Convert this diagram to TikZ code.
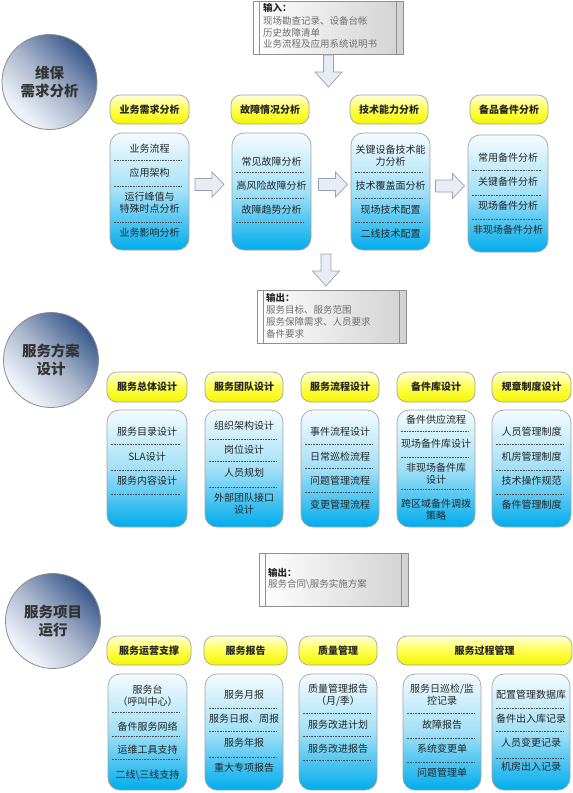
\documentclass[tikz,border=0pt]{standalone}
\usepackage{fontspec}
\setmainfont{Noto Sans CJK SC}
\usetikzlibrary{calc}
\definecolor{bordergray}{HTML}{A4A4A4}
\definecolor{hdrTop}{HTML}{FFFFD6}
\definecolor{hdrMid}{HTML}{FFFF50}
\definecolor{hdrBot}{HTML}{F4F400}
\definecolor{boxTop}{HTML}{F4FBFE}
\definecolor{boxMid}{HTML}{A2E0F7}
\definecolor{boxBot}{HTML}{00ACEC}
\definecolor{textdark}{HTML}{262626}
\definecolor{sepgray}{HTML}{505050}
\definecolor{iogray}{HTML}{909090}
\definecolor{ioRight}{HTML}{D2D2D2}
\definecolor{iotextc}{HTML}{6E6E6E}
\definecolor{cdark}{HTML}{3D5D8F}
\definecolor{cmid}{HTML}{A9B5CB}
\definecolor{clight}{HTML}{EEF2FA}
\definecolor{circBorder}{HTML}{8C8C8C}
\definecolor{circText}{HTML}{333333}
\definecolor{arrowFill}{HTML}{E7ECF5}
\definecolor{arrowBorder}{HTML}{98A2B3}
\pgfdeclarehorizontalshading{circshade}{100bp}{color(0bp)=(clight); color(28bp)=(clight); color(50bp)=(cmid); color(74bp)=(cdark); color(100bp)=(cdark)}
\tikzset{
  hdr/.style={draw=bordergray, line width=0.7pt, rounded corners=10pt,
    top color=hdrTop, bottom color=hdrBot, middle color=hdrMid, inner sep=0pt,
    font=\fontsize{10}{12}\selectfont\bfseries, text=textdark},
  bbox/.style={draw=bordergray, line width=0.7pt, rounded corners=12pt,
    top color=boxTop, bottom color=boxBot, middle color=boxMid, inner sep=0pt},
  item/.style={font=\fontsize{10}{11.8}\selectfont, text=textdark, align=center, inner sep=0pt},
  sep/.style={draw=sepgray, densely dotted, line width=0.6pt},
  io/.style={draw=iogray, line width=0.7pt, left color=white, right color=ioRight, inner sep=0pt},
  ioline/.style={draw=iogray, line width=0.7pt},
  iohead/.style={font=\fontsize{9.5}{11}\selectfont\bfseries, text=textdark, anchor=west, inner sep=0pt},
  iotext/.style={font=\fontsize{9.5}{11}\selectfont, text=iotextc, anchor=west, inner sep=0pt},
  circ/.style={circle, draw=circBorder, line width=0.8pt, minimum size=95pt, inner sep=0pt,
    shading=circshade, shading angle=45,
    font=\fontsize{14.5}{18}\selectfont\bfseries, text=circText, align=center},
  barrow/.style={draw=arrowBorder, fill=arrowFill, line width=0.7pt, line join=miter},
}
% box helpers: name, x1, y1, x2, y2, text
\newcommand{\hd}[6]{\node[hdr, minimum width={(#4-#2)*1pt}, minimum height={(#5-#3)*1pt}] (#1) at ({(#2+#4)/2},{(#3+#5)/2}) {#6};}
\newcommand{\bx}[5]{\node[bbox, minimum width={(#4-#2)*1pt}, minimum height={(#5-#3)*1pt}] (#1) at ({(#2+#4)/2},{(#3+#5)/2}) {};}
\newcommand{\itm}[4]{\node[item] (#1) at (#2,#3) {#4};}
\newcommand{\dsep}[3]{\draw[sep] ({#1+3.5},#3) -- ({#2-7},#3);}
\newcommand{\iobox}[5]{\node[io, minimum width={(#4-#2)*1pt}, minimum height={(#5-#3)*1pt}] (#1) at ({(#2+#4)/2},{(#3+#5)/2}) {};
  \draw[ioline] ($(#1.north west)+(7,0)$) -- ($(#1.south west)+(7,0)$);
  \draw[ioline] ($(#1.north east)+(-7,0)$) -- ($(#1.south east)+(-7,0)$);}
\newcommand{\harrow}[1]{\draw[barrow] ($(#1)+(-14.5,-6)$) -- ++(17,0) -- ++(0,-6.5) -- ++(12,12.5) -- ++(-12,12.5) -- ++(0,-6.5) -- ++(-17,0) -- cycle;}
\newcommand{\varrow}[1]{\draw[barrow] ($(#1)+(-5,-16)$) -- ++(10,0) -- ++(0,17) -- ++(8.5,0) -- ++(-13.5,15) -- ++(-13.5,-15) -- ++(8.5,0) -- cycle;}
\begin{document}
\begin{tikzpicture}[x=1pt,y=-1pt]
\useasboundingbox (0,0) rectangle (573,793);
\fill[white] (0,0) rectangle (573,793);

% ===== Section 1 =====
\node[circ] (c1) at (49.5,82) {维保\\需求分析};
\iobox{in1}{253}{1}{403}{54}
\node[iohead] (in1h) at (263,8) {输入：};
\node[iotext] (in1a) at (263,20.5) {现场勘查记录、设备台帐};
\node[iotext] (in1b) at (263,32.5) {历史故障清单};
\node[iotext] (in1c) at (263,44) {业务流程及应用系统说明书};
\coordinate (da1) at (328.5,71);
\varrow{da1}

\hd{hA}{110}{95}{189}{124}{业务需求分析}
\hd{hB}{231}{95}{309}{124}{故障情况分析}
\hd{hC}{350}{95}{428}{124}{技术能力分析}
\hd{hD}{470}{95}{548}{124}{备品备件分析}

\bx{bA}{110}{133}{189}{250}
\bx{bB}{232}{133}{311}{250}
\bx{bC}{351}{133}{430}{250}
\bx{bD}{468}{135}{548}{252}

\itm{a1}{149.5}{149}{业务流程}
\dsep{110}{189}{160}
\itm{a2}{149.5}{173}{应用架构}
\dsep{110}{189}{186.5}
\itm{a3}{149.5}{203}{运行峰值与\\特殊时点分析}
\dsep{110}{189}{222}
\itm{a4}{149.5}{233}{业务影响分析}

\itm{b1}{271.5}{162}{常见故障分析}
\dsep{232}{311}{172}
\itm{b2}{271.5}{185.5}{高风险故障分析}
\dsep{232}{311}{198}
\itm{b3}{271.5}{210}{故障趋势分析}
\dsep{232}{311}{222}

\itm{cc1}{390.5}{155.5}{关键设备技术能\\力分析}
\dsep{351}{430}{172}
\itm{cc2}{390.5}{186}{技术覆盖面分析}
\dsep{351}{430}{198}
\itm{cc3}{390.5}{210}{现场技术配置}
\dsep{351}{430}{222}
\itm{cc4}{390.5}{233.5}{二线技术配置}

\itm{d1}{508}{158}{常用备件分析}
\dsep{468}{548}{170}
\itm{d2}{508}{181.5}{关键备件分析}
\dsep{468}{548}{195}
\itm{d3}{508}{206}{现场备件分析}
\dsep{468}{548}{219}
\itm{d4}{508}{229.5}{非现场备件分析}

\coordinate (ar1) at (209.5,184.5);
\coordinate (ar2) at (333,184.5);
\coordinate (ar3) at (450,186);
\harrow{ar1}
\harrow{ar2}
\harrow{ar3}

\coordinate (da2) at (326,270);
\varrow{da2}

% ===== Section 2 =====
\iobox{out2}{257}{290}{406}{343}
\node[iohead] (o2h) at (266,297.5) {输出：};
\node[iotext] (o2a) at (266,310) {服务目标、服务范围};
\node[iotext] (o2b) at (266,322) {服务保障需求、人员要求};
\node[iotext] (o2c) at (266,333.5) {备件要求};

\node[circ] (c2) at (51,360) {服务方案\\设计};

\hd{h2a}{107}{372}{187}{402}{服务总体设计}
\hd{h2b}{205}{372}{283}{402}{服务团队设计}
\hd{h2c}{301}{372}{379}{402}{服务流程设计}
\hd{h2d}{397}{372}{475}{402}{备件库设计}
\hd{h2e}{492}{372}{571}{402}{规章制度设计}

\bx{b2a}{107}{410}{187}{527}
\bx{b2b}{205}{410}{283}{527}
\bx{b2c}{301}{410}{379}{527}
\bx{b2d}{397}{410}{475}{527}
\bx{b2e}{492}{410}{571}{527}

\itm{e1}{147}{432}{服务目录设计}
\dsep{107}{187}{444}
\itm{e2}{147}{456.5}{SLA设计}
\dsep{107}{187}{470}
\itm{e3}{147}{480.5}{服务内容设计}
\dsep{107}{187}{494}

\itm{f1}{244}{426}{组织架构设计}
\dsep{205}{283}{439}
\itm{f2}{244}{450}{岗位设计}
\dsep{205}{283}{461}
\itm{f3}{244}{473}{人员规划}
\dsep{205}{283}{487}
\itm{f4}{244}{504}{外部团队接口\\设计}

\itm{g1}{340}{432}{事件流程设计}
\dsep{301}{379}{444}
\itm{g2}{340}{456.5}{日常巡检流程}
\dsep{301}{379}{468}
\itm{g3}{340}{480.5}{问题管理流程}
\dsep{301}{379}{492}
\itm{g4}{340}{505}{变更管理流程}

\itm{k1}{436}{420}{备件供应流程}
\dsep{397}{475}{431}
\itm{k2}{436}{443.5}{现场备件库设计}
\dsep{397}{475}{457}
\itm{k3}{436}{474}{非现场备件库\\设计}
\dsep{397}{475}{489}
\itm{k4}{436}{510}{跨区域备件调拨\\策略}

\itm{m1}{531.5}{432}{人员管理制度}
\dsep{492}{571}{444}
\itm{m2}{531.5}{456.5}{机房管理制度}
\dsep{492}{571}{470}
\itm{m3}{531.5}{481}{技术操作规范}
\dsep{492}{571}{494}
\itm{m4}{531.5}{505}{备件管理制度}

% ===== Section 3 =====
\iobox{out3}{259}{553}{408}{606}
\node[iohead] (o3h) at (268,573) {输出：};
\node[iotext] (o3a) at (268,584.5) {服务合同{\textbackslash}服务实施方案};

\node[circ] (c3) at (53,621) {服务项目\\运行};

\hd{h3a}{107}{636}{191}{665}{服务运营支撑}
\hd{h3b}{204}{636}{287}{665}{服务报告}
\hd{h3c}{299}{636}{377}{665}{质量管理}
\hd{h3d}{397}{636}{572}{665}{服务过程管理}

\bx{b3a}{108}{674}{187}{790}
\bx{b3b}{205}{674}{283}{790}
\bx{b3c}{299}{674}{377}{790}
\bx{b3d}{403}{674}{481}{790}
\bx{b3e}{492}{674}{570}{790}

\itm{n1}{147.5}{696}{服务台\\（呼叫中心）}
\dsep{108}{187}{712}
\itm{n2}{147.5}{726.5}{备件服务网络}
\dsep{108}{187}{736}
\itm{n3}{147.5}{750}{运维工具支持}
\dsep{108}{187}{759}
\itm{n4}{147.5}{775}{二线{\textbackslash}三线支持}

\itm{p1}{244}{695}{服务月报}
\dsep{205}{283}{708}
\itm{p2}{244}{719}{服务日报、周报}
\dsep{205}{283}{731}
\itm{p3}{244}{743}{服务年报}
\dsep{205}{283}{757}
\itm{p4}{244}{768}{重大专项报告}

\itm{q1}{338}{695}{质量管理报告\\（月/季）}
\dsep{299}{377}{713}
\itm{q2}{338}{725}{服务改进计划}
\dsep{299}{377}{736}
\itm{q3}{338}{749}{服务改进报告}
\dsep{299}{377}{760}

\itm{r1}{442}{695}{服务日巡检/监\\控记录}
\dsep{403}{481}{713}
\itm{r2}{442}{725}{故障报告}
\dsep{403}{481}{738}
\itm{r3}{442}{749}{系统变更单}
\dsep{403}{481}{762}
\itm{r4}{442}{773}{问题管理单}

\itm{s1}{531}{695}{配置管理数据库}
\dsep{492}{570}{708}
\itm{s2}{531}{719}{备件出入库记录}
\dsep{492}{570}{731}
\itm{s3}{531}{743}{人员变更记录}
\dsep{492}{570}{758}
\itm{s4}{531}{767}{机房出入记录}
\end{tikzpicture}
\end{document}
